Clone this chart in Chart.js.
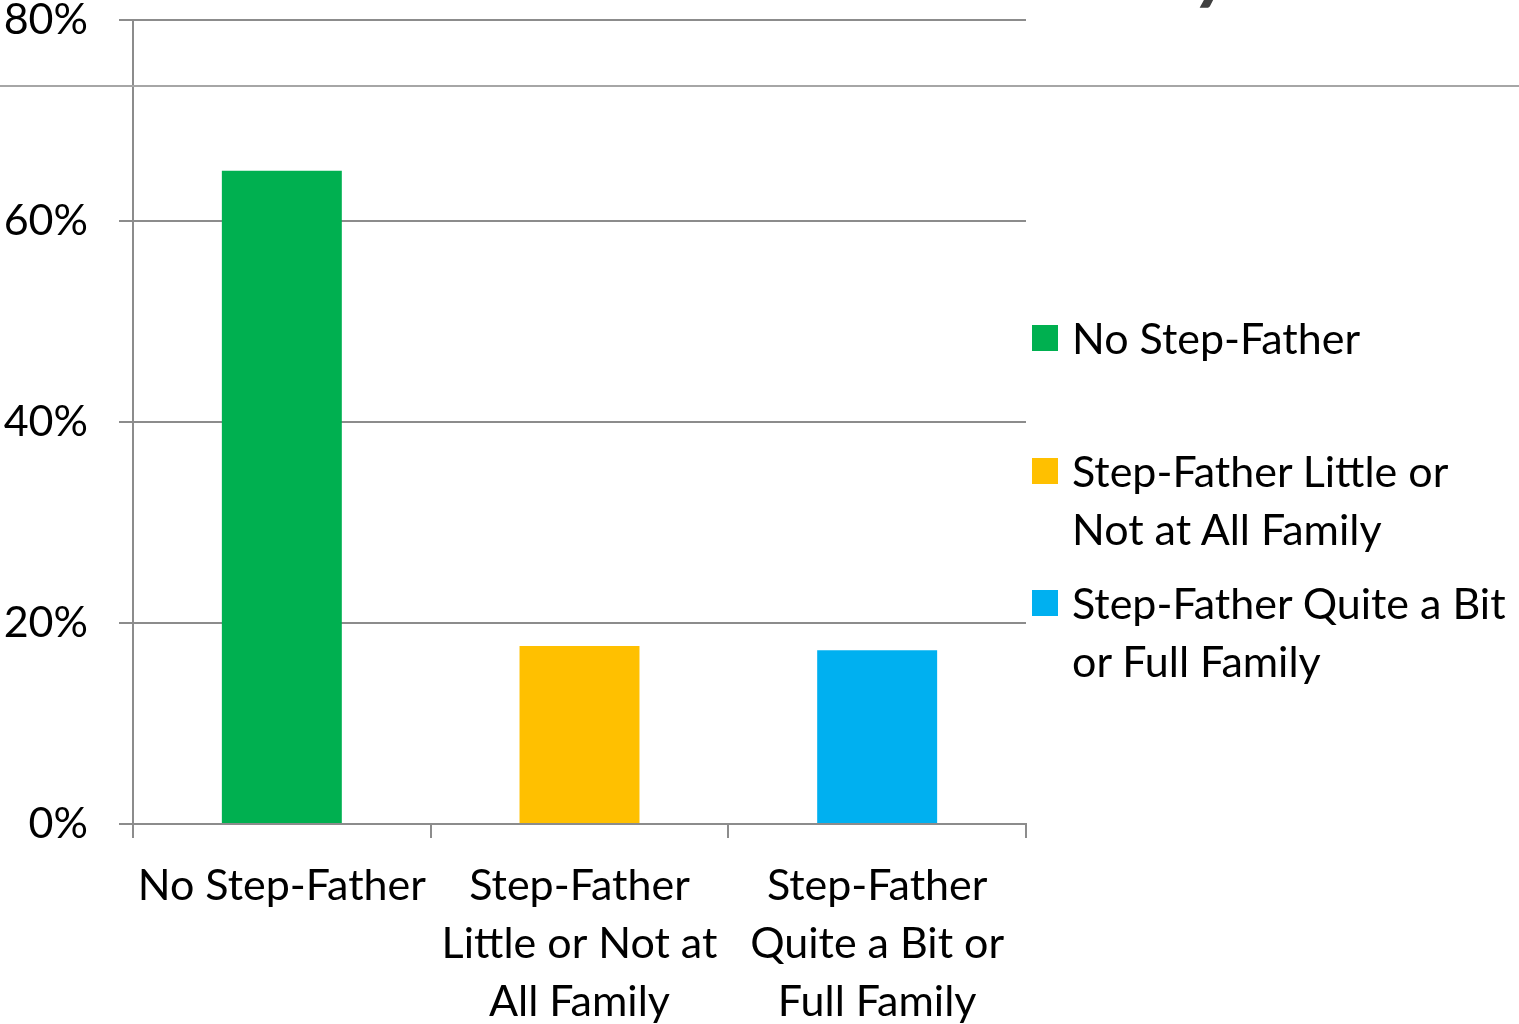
<!DOCTYPE html>
<html>
<head>
<meta charset="utf-8">
<script src="https://cdn.jsdelivr.net/npm/chart.js@4"></script>
<style>
  html, body { margin: 0; padding: 0; background: #fff; }
  #wrap { position: relative; width: 1519px; height: 1024px; overflow: hidden; }
  #chart { position: absolute; left: 0; top: 0; }
  .leg { position: absolute; left: 1032px; font: 43px Lato, sans-serif; color: #000; line-height: 58px; }
  .leg i { position: absolute; left: 0; top: 16px; width: 26px; height: 26px; }
  .leg span { position: absolute; left: 40px; white-space: nowrap; }
</style>
</head>
<body>
<div id="wrap">
  <canvas id="chart" width="1519" height="1024"></canvas>
</div>
<script>
// values
const categories = [
  "No Step-Father",
  ["Step-Father", "Little or Not at", "All Family"],
  ["Step-Father", "Quite a Bit or", "Full Family"]
];
const legendLabels = [
  ["No Step-Father"],
  ["Step-Father Little or", "Not at All Family"],
  ["Step-Father Quite a Bit", "or Full Family"]
];
const shares = [65, 17.7, 17.3];
const colors = ["#00B050", "#FFC000", "#00B0F0"];
const yTicks = [0, 20, 40, 60, 80];

const grey = "#8c8c8c";
const font = { family: "Lato, sans-serif", size: 43 };

// line across the slide and tail of the cut-off title
const slideBits = {
  id: "slideBits",
  afterDraw(chart) {
    const ctx = chart.ctx;
    ctx.save();
    ctx.strokeStyle = "#a6a6a6";
    ctx.lineWidth = 2;
    ctx.beginPath();
    ctx.moveTo(0, 86);
    ctx.lineTo(chart.width, 86);
    ctx.stroke();
    ctx.fillStyle = "#404040";
    ctx.font = "italic bold 80px Lato, sans-serif";
    ctx.textBaseline = "alphabetic";
    ctx.fillText("y", 1196, -6);
    ctx.restore();
  }
};

new Chart(document.getElementById("chart"), {
  type: "bar",
  data: {
    labels: categories,
    datasets: [{
      data: shares,
      backgroundColor: colors,
      categoryPercentage: 1,
      barPercentage: 0.403
    }]
  },
  options: {
    responsive: false,
    animation: false,
    layout: { padding: { top: 0, right: 493, left: 0, bottom: 0 } },
    plugins: { legend: { display: false }, tooltip: { enabled: false } },
    scales: {
      x: {
        afterFit(s) { s.height = 200; },
        grid: { offset: true, drawOnChartArea: false, drawTicks: true, tickLength: 14, color: grey, lineWidth: 2 },
        border: { color: grey, width: 2 },
        ticks: { color: "#000", font: { ...font, lineHeight: 1.35 }, padding: 19, maxRotation: 0, autoSkip: false }
      },
      y: {
        min: 0,
        max: 80,
        afterFit(s) { s.width = 133; s.paddingTop = 20; },
        afterBuildTicks(s) { s.ticks = yTicks.map(v => ({ value: v })); },
        grid: { color: grey, lineWidth: 2, tickLength: 14 },
        border: { color: grey, width: 2 },
        ticks: { color: "#000", font: { ...font, lineHeight: 0.93 }, padding: 31, callback: v => v + "%" }
      }
    }
  },
  plugins: [slideBits]
});

// legend with wrapped names, Excel style
const legTops = [309, 442, 574];
const wrap = document.getElementById("wrap");
legendLabels.forEach((lines, i) => {
  const d = document.createElement("div");
  d.className = "leg";
  d.style.top = legTops[i] + "px";
  const box = document.createElement("i");
  box.style.background = colors[i];
  d.appendChild(box);
  lines.forEach((t, j) => {
    const s = document.createElement("span");
    s.textContent = t;
    s.style.top = (j * 58) + "px";
    d.appendChild(s);
  });
  wrap.appendChild(d);
});
</script>
</body>
</html>
